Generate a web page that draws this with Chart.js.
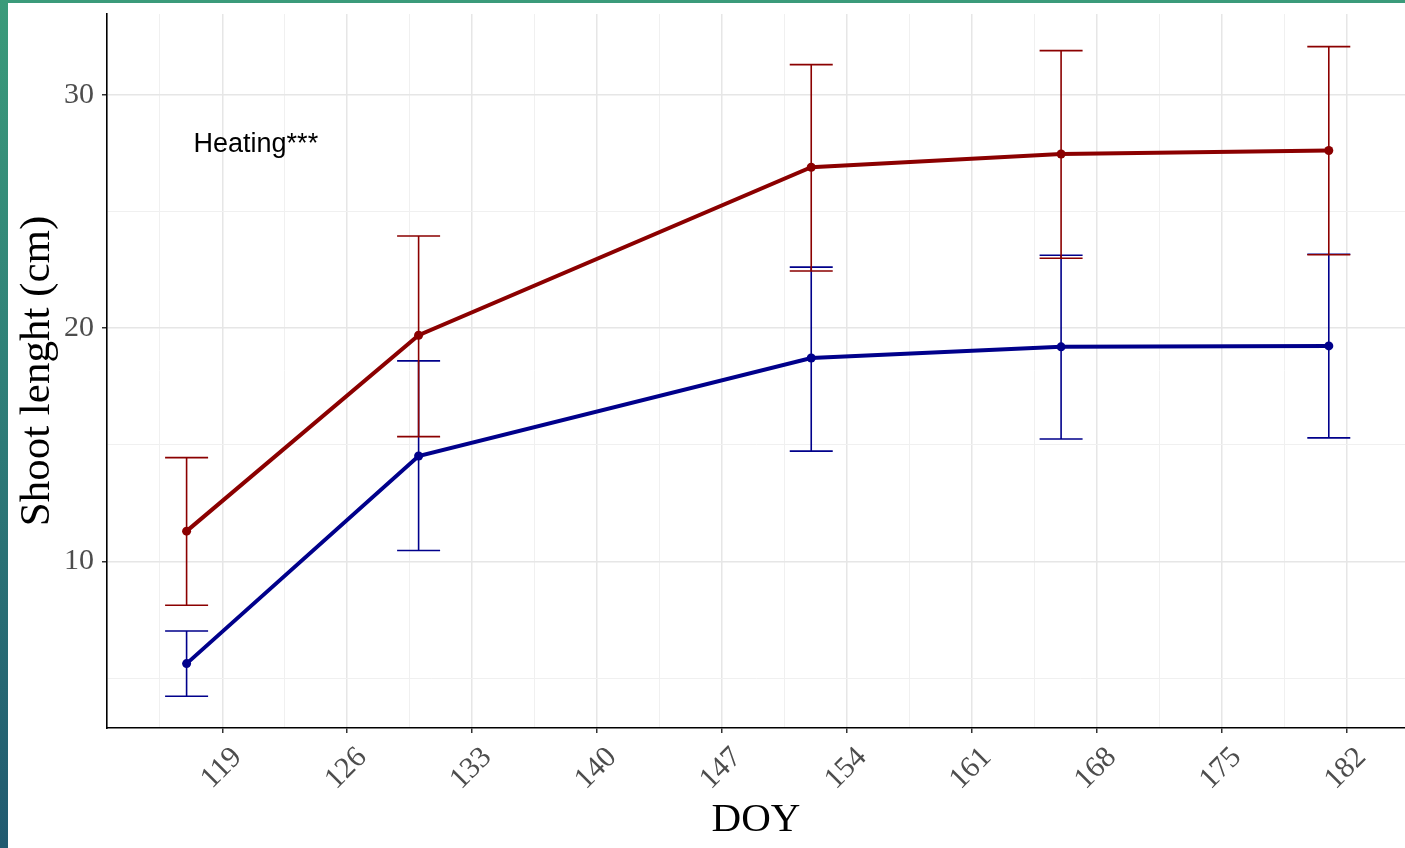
<!DOCTYPE html>
<html>
<head>
<meta charset="utf-8">
<script src="https://cdn.jsdelivr.net/npm/chart.js@4/dist/chart.umd.min.js"></script>
<style>
  html, body { margin: 0; padding: 0; }
  body {
    width: 1405px; height: 848px; overflow: hidden;
    background: linear-gradient(180deg, #3b9b7a 0%, #2f7f78 45%, #215a70 100%);
  }
  #wrap {
    position: absolute; left: 8px; top: 3px;
    width: 1397px; height: 845px; background: #fff;
  }
</style>
</head>
<body>
<div id="wrap"><canvas id="shootChart" width="1397" height="845"></canvas></div>
<script>
// day of year of each measurement
const doy = [117, 130, 152, 166, 181];

// heated plots: mean and error bar ends
const heatedMean  = [11.3, 19.7, 26.9, 27.47, 27.62];
const heatedUpper = [14.45, 23.95, 31.3, 31.9, 32.07];
const heatedLower = [8.12, 15.35, 22.45, 23.0, 23.15];

// control plots
const controlMean  = [5.62, 14.52, 18.72, 19.2, 19.24];
const controlUpper = [7.02, 18.6, 22.62, 23.13, 23.17];
const controlLower = [4.22, 10.47, 14.73, 15.25, 15.3];

const xMajorTicks = [119, 126, 133, 140, 147, 154, 161, 168, 175, 182];
const xMinorTicks = [115.5, 122.5, 129.5, 136.5, 143.5, 150.5, 157.5, 164.5, 171.5, 178.5];
const yMajorTicks = [10, 20, 30];
const yMinorTicks = [5, 15, 25];

const annotation = { text: 'Heating***', x: 120.88, y: 27.54 };

const RED = '#8b0000';
const BLUE = '#00008b';
const SERIF = '"Liberation Serif", "Times New Roman", serif';

let toPoints = (xs, ys) => xs.map((x, i) => ({ x: x, y: ys[i] }));

let errorBars = [
    { lo: controlLower, hi: controlUpper, color: BLUE },
    { lo: heatedLower, hi: heatedUpper, color: RED }
];

const errorBarPlugin = {
    id: 'errorBars',
    beforeDatasetsDraw(chart) {
        const ctx = chart.ctx;
        const xs = chart.scales.x, ys = chart.scales.y;
        ctx.save();
        ctx.lineWidth = 1.6;
        errorBars.forEach(eb => {
            ctx.strokeStyle = eb.color;
            for (var i = 0; i < doy.length; i++) {
                let px = xs.getPixelForValue(doy[i]);
                let top = ys.getPixelForValue(eb.hi[i]);
                let bot = ys.getPixelForValue(eb.lo[i]);
                ctx.beginPath();
                ctx.moveTo(px, top); ctx.lineTo(px, bot);
                ctx.moveTo(px - 21.5, top); ctx.lineTo(px + 21.5, top);
                ctx.moveTo(px - 21.5, bot); ctx.lineTo(px + 21.5, bot);
                ctx.stroke();
            }
        });
        ctx.restore();
    },
    afterDatasetsDraw(chart) {
        const ctx = chart.ctx;
        ctx.save();
        ctx.font = '27px "Liberation Sans", Arial, sans-serif';
        ctx.fillStyle = '#000';
        ctx.textAlign = 'center';
        ctx.textBaseline = 'alphabetic';
        ctx.fillText(annotation.text,
            chart.scales.x.getPixelForValue(annotation.x),
            chart.scales.y.getPixelForValue(annotation.y));
        ctx.restore();
    }
};

let isMajor = (list, v) => list.indexOf(v) !== -1;

var ctxS = document.getElementById('shootChart').getContext('2d');
var shootChart = new Chart(ctxS, {
    type: 'line',
    data: {
        datasets: [{
            label: 'Control',
            data: toPoints(doy, controlMean),
            borderColor: BLUE,
            backgroundColor: BLUE,
            borderWidth: 4,
            pointRadius: 4.5,
            pointBorderWidth: 0,
            tension: 0
        },
        {
            label: 'Heated',
            data: toPoints(doy, heatedMean),
            borderColor: RED,
            backgroundColor: RED,
            borderWidth: 4,
            pointRadius: 4.5,
            pointBorderWidth: 0,
            tension: 0
        }]
    },
    options: {
        responsive: false,
        animation: false,
        layout: { autoPadding: false, padding: { top: 11, left: 0, right: 0, bottom: 0 } },
        plugins: {
            legend: { display: false },
            tooltip: { enabled: false }
        },
        scales: {
            x: {
                type: 'linear',
                min: 112.54,
                max: 185.27,
                afterBuildTicks: axis => {
                    axis.ticks = xMinorTicks.concat(xMajorTicks).sort((a, b) => a - b).map(v => ({ value: v }));
                },
                afterFit: axis => {
                    axis.height = 120;
                    axis.paddingLeft = 0;
                    axis.paddingRight = 0;
                },
                ticks: {
                    autoSkip: false,
                    maxRotation: 45,
                    minRotation: 45,
                    labelOffset: 15,
                    padding: 7,
                    color: '#4d4d4d',
                    font: { family: SERIF, size: 30 },
                    callback: v => isMajor(xMajorTicks, v) ? String(v) : ''
                },
                grid: {
                    color: c => isMajor(xMajorTicks, c.tick.value) ? '#e6e6e6' : '#f0f0f0',
                    lineWidth: c => isMajor(xMajorTicks, c.tick.value) ? 1.5 : 1,
                    tickColor: c => isMajor(xMajorTicks, c.tick.value) ? '#333333' : 'rgba(0,0,0,0)',
                    tickLength: 5
                },
                border: { color: '#000', width: 1.6 },
                title: {
                    display: true,
                    text: 'DOY',
                    color: '#000',
                    font: { family: SERIF, size: 41 },
                    padding: { top: 0, bottom: 3 }
                }
            },
            y: {
                type: 'linear',
                min: 2.86,
                max: 33.47,
                afterBuildTicks: axis => {
                    axis.ticks = yMinorTicks.concat(yMajorTicks).sort((a, b) => a - b).map(v => ({ value: v }));
                },
                afterFit: axis => {
                    axis.width = 99;
                    axis.paddingTop = 0;
                    axis.paddingBottom = 0;
                },
                ticks: {
                    autoSkip: false,
                    padding: 8,
                    color: '#4d4d4d',
                    font: { family: SERIF, size: 30 },
                    callback: v => isMajor(yMajorTicks, v) ? String(v) : ''
                },
                grid: {
                    color: c => isMajor(yMajorTicks, c.tick.value) ? '#e6e6e6' : '#f0f0f0',
                    lineWidth: c => isMajor(yMajorTicks, c.tick.value) ? 1.5 : 1,
                    tickColor: c => isMajor(yMajorTicks, c.tick.value) ? '#333333' : 'rgba(0,0,0,0)',
                    tickLength: 5
                },
                border: { color: '#000', width: 1.6 },
                title: {
                    display: true,
                    text: 'Shoot lenght (cm)',
                    color: '#000',
                    font: { family: SERIF, size: 43 },
                    padding: { top: 4, bottom: 0 }
                }
            }
        }
    },
    plugins: [errorBarPlugin]
});
</script>
</body>
</html>
